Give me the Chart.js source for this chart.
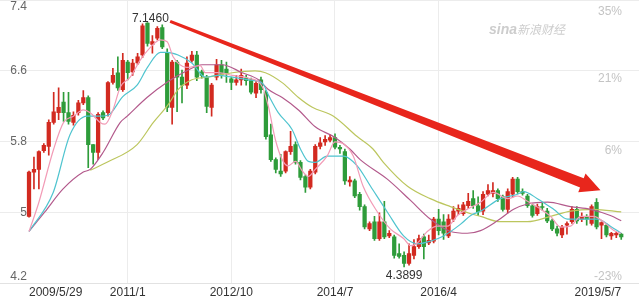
<!DOCTYPE html>
<html>
<head>
<meta charset="utf-8">
<script src="https://cdn.jsdelivr.net/npm/chart.js@4.4.1/dist/chart.umd.min.js"></script>
<style>
  html, body { margin: 0; padding: 0; background: #fff; }
  #wrap { width: 639px; height: 301px; position: relative; }
</style>
</head>
<body>
<div id="wrap"><canvas id="chart"></canvas></div>
<script>
// monthly candles, 2009/5 .. 2019/5 (index 0..120)
const opens = [
  4.96, 5.46, 5.49, 5.70, 5.75, 6.02, 6.13, 6.25, 6.13, 6.02,
  6.13, 6.24, 6.30, 5.77, 5.68, 6.13, 6.13, 6.47, 6.58, 6.39,
  6.70, 6.59, 6.69, 6.78, 7.14, 6.90, 6.97, 7.09, 6.80, 6.19,
  6.70, 6.53, 6.44, 6.72, 6.78, 6.59, 6.53, 6.19, 6.53, 6.67,
  6.62, 6.51, 6.47, 6.50, 6.52, 6.50, 6.35, 6.50, 6.36, 5.88,
  5.60, 5.47, 5.47, 5.69, 5.77, 5.57, 5.41, 5.29, 5.46, 5.75,
  5.80, 5.82, 5.85, 5.74, 5.69, 5.35, 5.36, 5.21, 5.07, 4.82,
  4.90, 4.71, 4.90, 4.74, 4.73, 4.54, 4.52, 4.43, 4.52, 4.62,
  4.73, 4.66, 4.68, 4.93, 4.90, 4.74, 4.93, 5.02, 4.99, 5.08,
  5.16, 5.08, 5.02, 5.21, 5.22, 5.25, 5.18, 5.04, 5.21, 5.38,
  5.24, 5.19, 5.08, 4.99, 5.07, 5.02, 4.91, 4.82, 4.75, 4.86,
  4.90, 5.04, 4.93, 4.96, 4.88, 5.12, 4.86, 4.86, 4.74, 4.75,
  4.76
];
const closes = [
  5.46, 5.49, 5.69, 5.76, 6.02, 6.14, 6.19, 6.13, 6.03, 6.10,
  6.24, 6.30, 5.77, 5.68, 6.11, 6.07, 6.47, 6.55, 6.41, 6.72,
  6.58, 6.69, 6.76, 7.11, 6.91, 6.93, 7.08, 6.87, 6.19, 6.70,
  6.53, 6.44, 6.69, 6.78, 6.53, 6.55, 6.20, 6.44, 6.67, 6.56,
  6.58, 6.47, 6.50, 6.55, 6.49, 6.36, 6.46, 6.39, 5.86, 5.60,
  5.49, 5.44, 5.69, 5.75, 5.57, 5.40, 5.29, 5.47, 5.75, 5.79,
  5.83, 5.85, 5.74, 5.72, 5.36, 5.37, 5.19, 5.07, 4.84, 4.88,
  4.71, 4.90, 4.73, 4.77, 4.52, 4.51, 4.43, 4.54, 4.62, 4.71,
  4.62, 4.69, 4.93, 4.80, 4.77, 4.93, 5.02, 5.05, 5.09, 5.13,
  5.08, 5.01, 5.21, 5.25, 5.25, 5.16, 5.04, 5.24, 5.38, 5.24,
  5.22, 5.08, 4.97, 5.07, 5.06, 4.91, 4.82, 4.77, 4.84, 4.88,
  5.04, 4.91, 4.96, 4.93, 5.07, 4.84, 4.89, 4.75, 4.77, 4.77,
  4.73
];
const highs = [
  5.47, 5.63, 5.70, 5.78, 6.05, 6.36, 6.41, 6.36, 6.36, 6.14,
  6.27, 6.38, 6.32, 5.77, 6.13, 6.15, 6.48, 6.63, 6.76, 6.80,
  6.72, 6.73, 6.80, 7.13, 7.146, 7.00, 7.10, 7.12, 6.85, 6.72,
  6.72, 6.61, 6.76, 6.82, 6.82, 6.61, 6.55, 6.46, 6.73, 6.72,
  6.70, 6.53, 6.55, 6.62, 6.55, 6.52, 6.48, 6.53, 6.38, 6.00,
  5.62, 5.66, 5.70, 5.92, 5.80, 5.59, 5.43, 5.49, 5.77, 5.85,
  5.87, 5.88, 5.89, 5.76, 5.72, 5.41, 5.38, 5.23, 5.09, 4.90,
  4.96, 5.00, 5.13, 4.80, 4.75, 4.65, 4.56, 4.65, 4.70, 4.75,
  4.76, 4.75, 4.95, 5.04, 4.98, 4.98, 5.07, 5.09, 5.12, 5.22,
  5.25, 5.18, 5.24, 5.32, 5.34, 5.27, 5.20, 5.27, 5.40, 5.40,
  5.27, 5.21, 5.10, 5.10, 5.12, 5.05, 4.93, 4.85, 4.86, 4.90,
  5.07, 5.07, 5.00, 4.98, 5.09, 5.16, 4.90, 4.88, 4.78, 4.78,
  4.77
];
const lows = [
  4.95, 5.27, 5.27, 5.68, 5.65, 6.00, 6.05, 6.03, 6.00, 5.99,
  6.10, 6.22, 5.51, 5.55, 5.60, 6.05, 6.09, 6.45, 6.38, 6.37,
  6.50, 6.55, 6.67, 6.75, 6.88, 6.80, 6.95, 6.85, 6.14, 6.00,
  6.14, 6.24, 6.40, 6.70, 6.49, 6.52, 6.13, 6.09, 6.50, 6.52,
  6.47, 6.39, 6.44, 6.44, 6.44, 6.34, 6.30, 6.35, 5.83, 5.58,
  5.45, 5.41, 5.45, 5.66, 5.55, 5.37, 5.23, 5.27, 5.44, 5.72,
  5.76, 5.80, 5.72, 5.67, 5.32, 5.30, 5.17, 5.03, 4.82, 4.80,
  4.69, 4.69, 4.71, 4.72, 4.49, 4.49, 4.3899, 4.41, 4.48, 4.60,
  4.48, 4.64, 4.66, 4.75, 4.70, 4.72, 4.90, 4.98, 4.97, 5.05,
  5.05, 4.97, 4.98, 5.19, 5.18, 5.13, 5.02, 5.00, 5.18, 5.22,
  5.20, 5.06, 4.95, 4.97, 5.03, 4.89, 4.80, 4.74, 4.72, 4.76,
  4.88, 4.88, 4.90, 4.86, 4.86, 4.82, 4.71, 4.73, 4.70, 4.72,
  4.70
];

// moving averages: [month index, price]
const ma5 = [[0,4.79],[2,5.12],[5,5.72],[7,6.02],[9,6.09],[11,6.16],[12.4,6.13],[14.4,6.02],[15.4,6.0],[17,6.16],[18.5,6.42],[20.5,6.53],[22.5,6.72],[24.5,6.86],[26.6,6.95],[28,6.93],[29.2,6.76],[32,6.64],[34.7,6.66],[35.7,6.58],[38.3,6.58],[41.2,6.55],[44.4,6.52],[47.3,6.42],[48.5,6.20],[49.9,5.83],[51.3,5.60],[52.5,5.53],[54,5.58],[55.4,5.47],[56.6,5.41],[58,5.49],[60.4,5.64],[62,5.80],[63.7,5.78],[65.7,5.64],[67.7,5.30],[70.6,5.01],[73.2,4.82],[75.9,4.71],[77.3,4.63],[78.7,4.66],[80.7,4.79],[82.8,4.85],[84.8,4.85],[86.8,4.97],[88.8,5.04],[91.5,5.12],[94.1,5.23],[97,5.16],[99,5.19],[101,5.13],[103.7,5.04],[105.7,4.96],[107.7,4.84],[109.7,4.85],[111.8,4.96],[114.4,4.96],[116.4,4.90],[118.5,4.80],[120,4.77]];
const ma10 = [[0,4.79],[4.9,5.23],[8.3,5.88],[11.8,6.09],[14.2,6.09],[16,6.10],[19,6.31],[21.9,6.44],[24,6.64],[26.6,6.81],[28,6.81],[30.2,6.78],[33,6.69],[35.7,6.53],[38.3,6.55],[41.2,6.53],[44.4,6.50],[47.3,6.46],[48.5,6.33],[50.5,6.13],[53.3,5.94],[55,5.72],[56.6,5.58],[58,5.57],[60.4,5.64],[63.7,5.64],[66.5,5.53],[69.2,5.30],[72.6,5.01],[75.9,4.74],[78.7,4.65],[81.3,4.68],[84,4.74],[87.4,4.87],[89.5,4.97],[91.5,5.02],[95.5,5.16],[99,5.21],[100.2,5.24],[103,5.16],[106.3,5.04],[109.1,4.93],[111.8,4.93],[115.2,4.93],[117.8,4.85],[120,4.77]];
const ma20 = [[0,4.79],[3.2,5.01],[6.9,5.27],[11,5.46],[12.4,5.49],[15,5.68],[18.5,6.02],[19.9,6.09],[23.9,6.30],[28.2,6.48],[31.6,6.59],[35.1,6.67],[39.1,6.67],[43.2,6.58],[46.5,6.50],[48.5,6.39],[51.3,6.30],[54.6,6.16],[58,5.97],[62,5.85],[65,5.72],[67.1,5.60],[72.6,5.38],[77.3,5.14],[81.3,4.93],[85.4,4.79],[88.8,4.77],[91.5,4.80],[94.9,4.91],[98.2,5.04],[101,5.10],[105.1,5.12],[109.7,5.07],[113.8,5.04],[117.8,4.97],[120,4.91]];
const ma60 = [[12.4,5.48],[15.8,5.57],[21.9,5.77],[25.2,6.02],[28.2,6.22],[30.2,6.39],[33,6.50],[36.3,6.53],[41.2,6.58],[45.8,6.60],[47.9,6.58],[51.5,6.46],[54.6,6.30],[57.4,6.19],[61.7,6.09],[66.5,5.86],[69.7,5.72],[71.8,5.57],[76.7,5.30],[81.3,5.16],[85.4,5.07],[89.5,4.99],[91.5,4.96],[95.5,4.90],[101,4.90],[105.7,4.96],[109.7,5.02],[114.4,5.04],[120,5.01]];

const xTickIdx = [0, 20, 41, 62, 83, 120];
const xTickLabels = ['2009/5/29', '2011/1', '2012/10', '2014/7', '2016/4', '2019/5/7'];
const yTicks = [4.2, 5, 5.8, 6.6, 7.4];
const pctTicks = [35, 21, 6, -23];

// trend arrow, [month index, price]
const arrowFrom = [28.6, 7.16];
const arrowTo = [115.8, 5.255];

const FONT = '"Liberation Sans", Arial, sans-serif';
const RED = '#d22a20';
const GREEN = '#2e9c3a';
const candleColors = opens.map((o, i) => closes[i] >= o ? RED : GREEN);

const maLine = (pts, color) => ({
  type: 'line',
  data: pts.map(([x, y]) => ({ x, y })),
  borderColor: color,
  borderWidth: 1.2,
  pointRadius: 0,
  cubicInterpolationMode: 'monotone',
  order: 0
});

const overlay = {
  id: 'overlay',
  afterDatasetsDraw(chart) {
    const { ctx, chartArea: a, scales: { x, y, yr } } = chart;
    const clampY = p => Math.min(Math.max(p, a.top + 7), a.bottom - 7);
    ctx.save();
    ctx.font = '12px ' + FONT;
    ctx.textBaseline = 'middle';

    // left price labels
    ctx.fillStyle = '#666';
    ctx.textAlign = 'right';
    yTicks.forEach(v => ctx.fillText(String(v), 27, clampY(y.getPixelForValue(v))));

    // right percent labels
    ctx.fillStyle = '#c4c4c4';
    pctTicks.forEach(v => ctx.fillText(v + '%', a.right - 17, clampY(yr.getPixelForValue(v))));

    // max / min marks
    const hi = highs.indexOf(Math.max(...highs));
    const lo = lows.indexOf(Math.min(...lows));
    ctx.fillStyle = '#333';
    ctx.textAlign = 'center';
    ctx.textBaseline = 'bottom';
    ctx.fillText(highs[hi].toFixed(4), x.getPixelForValue(hi) + 3, y.getPixelForValue(highs[hi]) + 2);
    ctx.textBaseline = 'top';
    ctx.fillText(lows[lo].toFixed(4), x.getPixelForValue(lo), y.getPixelForValue(lows[lo]) + 3);

    // watermark
    ctx.fillStyle = '#cdcdcd';
    ctx.textAlign = 'left';
    ctx.textBaseline = 'alphabetic';
    ctx.font = 'italic bold 14px ' + FONT;
    ctx.fillText('sina', 489, 34);
    ctx.font = 'italic 12px "Noto Sans CJK SC", sans-serif';
    ctx.fillText('新浪财经', 517, 34);

    // arrow
    const x0 = x.getPixelForValue(arrowFrom[0]), y0 = y.getPixelForValue(arrowFrom[1]);
    const x1 = x.getPixelForValue(arrowTo[0]), y1 = y.getPixelForValue(arrowTo[1]);
    const len = Math.hypot(x1 - x0, y1 - y0);
    const ux = (x1 - x0) / len, uy = (y1 - y0) / len;
    const nx = -uy, ny = ux;
    const headLen = 20, headHalf = 10, w0 = 1.5, w1 = 5;
    const bx = x1 - ux * headLen, by = y1 - uy * headLen;
    ctx.fillStyle = '#e8261c';
    ctx.beginPath();
    ctx.moveTo(x0 + nx * w0, y0 + ny * w0);
    ctx.lineTo(bx + nx * w1, by + ny * w1);
    ctx.lineTo(bx + nx * headHalf, by + ny * headHalf);
    ctx.lineTo(x1, y1);
    ctx.lineTo(bx - nx * headHalf, by - ny * headHalf);
    ctx.lineTo(bx - nx * w1, by - ny * w1);
    ctx.lineTo(x0 - nx * w0, y0 - ny * w0);
    ctx.closePath();
    ctx.fill();
    ctx.restore();
  }
};

Chart.defaults.font.family = FONT;

new Chart(document.getElementById('chart'), {
  type: 'bar',
  data: {
    datasets: [
      maLine(ma5, '#f29bb6'),
      maLine(ma10, '#4fc4cf'),
      maLine(ma20, '#b35a8c'),
      maLine(ma60, '#bcc65e'),
      {
        data: opens.map((o, i) => ({ x: i, y: [Math.min(o, closes[i]), Math.max(o, closes[i])] })),
        backgroundColor: candleColors,
        barThickness: 3.6,
        minBarLength: 1,
        grouped: false,
        order: 1
      },
      {
        data: highs.map((h, i) => ({ x: i, y: [lows[i], h] })),
        backgroundColor: candleColors,
        barThickness: 1,
        grouped: false,
        order: 2
      }
    ]
  },
  options: {
    responsive: true,
    maintainAspectRatio: false,
    animation: false,
    layout: { padding: 0 },
    plugins: { legend: { display: false }, tooltip: { enabled: false } },
    scales: {
      x: {
        type: 'linear',
        min: -5.88,
        max: 123.6,
        offset: false,
        afterBuildTicks: s => { s.ticks = xTickIdx.map(v => ({ value: v })); },
        ticks: {
          autoSkip: false,
          maxRotation: 0,
          align: 'inner',
          padding: 2,
          color: '#333',
          font: { size: 12, lineHeight: 1.1 },
          callback: (v, i) => xTickLabels[i]
        },
        grid: {
          offset: false,
          drawTicks: false,
          color: c => (c.index === 0 || c.index === xTickIdx.length - 1) ? 'rgba(0,0,0,0)' : '#ececec'
        },
        border: { display: true, color: '#e2e2e2' }
      },
      y: {
        position: 'left',
        min: 4.2,
        max: 7.4,
        afterBuildTicks: s => { s.ticks = yTicks.map(v => ({ value: v })); },
        ticks: { display: false },
        grid: { drawTicks: false, color: '#ececec' },
        border: { display: false }
      },
      yr: {
        position: 'right',
        display: false,
        min: -22,
        max: 37.5
      }
    }
  },
  plugins: [overlay]
});
</script>
</body>
</html>
